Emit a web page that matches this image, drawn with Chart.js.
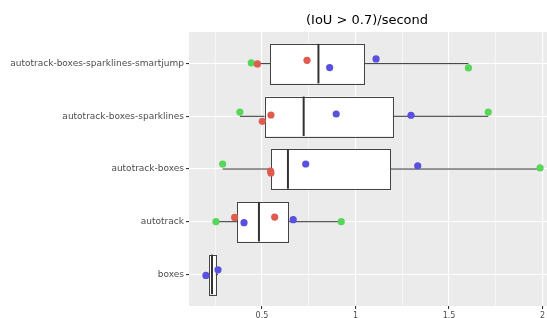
<!DOCTYPE html>
<html>
<head>
<meta charset="utf-8">
<script src="https://cdn.jsdelivr.net/npm/chart.js@4"></script>
<style>
  html, body { margin: 0; padding: 0; background: #fff; overflow: hidden; }
  #wrap { position: relative; width: 547px; height: 318px; overflow: hidden; }
  #title { position: absolute; left: 267px; top: 11px; width: 200px; text-align: center;
           font: 13px "DejaVu Sans", sans-serif; color: #000; line-height: 17px; }
  canvas { position: absolute; left: 0; top: 0; }
</style>
</head>
<body>
<div id="wrap">
  <canvas id="chart" width="551" height="318"></canvas>
  <div id="title">(IoU &gt; 0.7)/second</div>
</div>
<script>
// categories, bottom to top
const categories = ['boxes', 'autotrack', 'autotrack-boxes', 'autotrack-boxes-sparklines', 'autotrack-boxes-sparklines-smartjump'];

// box stats per category
const q1 = [0.216, 0.367, 0.548, 0.515, 0.545];
const medians = [0.233, 0.484, 0.639, 0.723, 0.802];
const q3 = [0.252, 0.642, 1.186, 1.199, 1.047];
const whiskerLo = [0.2005, 0.254, 0.290, 0.382, 0.443];
const whiskerHi = [0.265, 0.924, 1.987, 1.710, 1.604];

// jittered points: [value, category index, jitter]
const redPoints = [
  [0.354, 1, 0.081], [0.568, 1, 0.087],
  [0.546, 2, -0.038], [0.548, 2, -0.075],
  [0.548, 3, 0.025], [0.502, 3, -0.095],
  [0.476, 4, -0.006], [0.741, 4, 0.063]
];
const greenPoints = [
  [0.254, 1, 0.0], [0.924, 1, 0.0],
  [0.290, 2, 0.095], [1.987, 2, 0.02],
  [0.382, 3, 0.08], [1.710, 3, 0.08],
  [0.443, 4, 0.013], [1.604, 4, -0.081]
];
const bluePoints = [
  [0.2005, 0, -0.019], [0.265, 0, 0.087],
  [0.404, 1, -0.019], [0.667, 1, 0.038],
  [0.734, 2, 0.095], [1.333, 2, 0.062],
  [0.897, 3, 0.044], [1.297, 3, 0.02],
  [0.862, 4, -0.076], [1.110, 4, 0.089]
];

const majorTicks = [0.5, 1, 1.5, 2];
const minorTicks = [0.25, 0.75, 1.25, 1.75];

function toXY(list) {
  return list.map(p => ({ x: p[0], y: p[1] + p[2] }));
}

// boxes + whiskers, drawn under the points
const boxPlugin = {
  id: 'boxes',
  beforeDatasetsDraw(chart) {
    const ctx = chart.ctx;
    const xs = chart.scales.x, ys = chart.scales.y;
    ctx.save();
    categories.forEach((c, i) => {
      const yc = ys.getPixelForValue(i);
      const yt = ys.getPixelForValue(i + 0.375);
      const yb = ys.getPixelForValue(i - 0.375);
      const a = xs.getPixelForValue(q1[i]), b = xs.getPixelForValue(q3[i]);
      ctx.strokeStyle = '#333';
      ctx.lineWidth = 1;
      ctx.beginPath();
      ctx.moveTo(xs.getPixelForValue(whiskerLo[i]), yc);
      ctx.lineTo(a, yc);
      ctx.moveTo(b, yc);
      ctx.lineTo(xs.getPixelForValue(whiskerHi[i]), yc);
      ctx.stroke();
      ctx.fillStyle = '#fff';
      ctx.fillRect(a, yt, b - a, yb - yt);
      ctx.strokeStyle = '#444';
      ctx.strokeRect(Math.round(a) + 0.5, Math.round(yt) + 0.5, Math.round(b - a), Math.round(yb - yt));
      const m = xs.getPixelForValue(medians[i]);
      ctx.strokeStyle = '#333';
      ctx.lineWidth = 2;
      ctx.beginPath();
      ctx.moveTo(m, yt);
      ctx.lineTo(m, yb);
      ctx.stroke();
    });
    ctx.restore();
  }
};

new Chart(document.getElementById('chart'), {
  type: 'scatter',
  data: {
    datasets: [
      { data: toXY(bluePoints), backgroundColor: '#5a50de', order: 1 },
      { data: toXY(redPoints), backgroundColor: '#e05a4f', order: 2 },
      { data: toXY(greenPoints), backgroundColor: '#58d65a', order: 3 }
    ]
  },
  options: {
    responsive: false,
    animation: false,
    layout: { padding: { top: 32, right: 0, left: 0, bottom: 0 } },
    elements: { point: { radius: 3.6, borderWidth: 0 } },
    plugins: { legend: { display: false }, tooltip: { enabled: false } },
    scales: {
      x: {
        type: 'linear',
        min: 0.11,
        max: 2.024,
        afterBuildTicks: s => {
          s.ticks = majorTicks.concat(minorTicks).sort((a, b) => a - b).map(v => ({ value: v }));
        },
        afterFit: s => { s.height = 12; },
        border: { display: false },
        grid: {
          color: '#fff',
          lineWidth: ctx => majorTicks.includes(ctx.tick.value) ? 1.1 : 0.55,
          tickColor: ctx => majorTicks.includes(ctx.tick.value) ? '#333' : 'rgba(0,0,0,0)',
          tickLength: 3
        },
        ticks: {
          padding: 2,
          color: '#4d4d4d',
          font: { family: 'DejaVu Sans', size: 8 },
          callback: v => majorTicks.includes(v) ? String(v) : ''
        }
      },
      y: {
        type: 'linear',
        min: -0.6,
        max: 4.6,
        afterBuildTicks: s => {
          s.ticks = categories.map((c, i) => ({ value: i }));
        },
        afterFit: s => { s.width = 189; },
        border: { display: false },
        grid: { color: '#fff', lineWidth: 1.1, tickColor: '#333', tickLength: 3 },
        ticks: {
          padding: 2,
          color: '#4d4d4d',
          font: { family: 'DejaVu Sans', size: 9 },
          callback: v => categories[v]
        }
      }
    }
  },
  plugins: [{
    id: 'panelBg',
    beforeDraw(chart) {
      const a = chart.chartArea;
      chart.ctx.save();
      chart.ctx.fillStyle = '#ebebeb';
      chart.ctx.fillRect(a.left, a.top, a.right - a.left, a.bottom - a.top);
      chart.ctx.restore();
    }
  }, boxPlugin]
});
</script>
</body>
</html>
